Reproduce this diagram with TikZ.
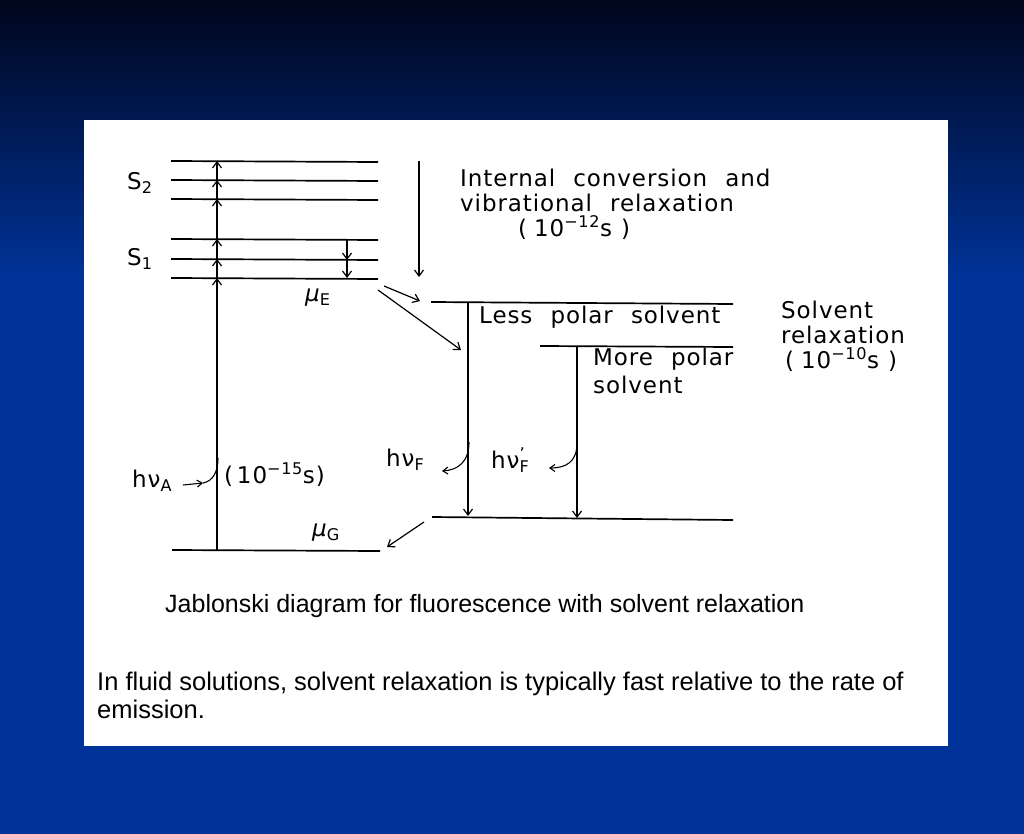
\documentclass[tikz,border=0pt]{standalone}
\usepackage{fontspec}
\setmainfont{Liberation Sans}
\newfontfamily\drawfont{DejaVu Sans}[LetterSpace=4,WordSpace=2.2]
\usetikzlibrary{arrows.meta}
\definecolor{bgtop}{RGB}{0,6,28}
\definecolor{bgblue}{RGB}{0,51,153}
\tikzset{
  level/.style={line width=1.7pt},
  trans/.style={line width=1.2pt,-{Straight Barb[length=6pt,width=9pt]}},
  curl/.style={line width=1.1pt},
  lbl/.style={font=\drawfont\fontsize{23}{26}\selectfont,inner sep=0pt,anchor=west},
  captxt/.style={font=\fontsize{25.5}{28}\selectfont,inner sep=0pt,anchor=west}
}

\begin{document}
\begin{tikzpicture}[x=1pt,y=-1pt]
\useasboundingbox (0,0) rectangle (1024,834);
\shade[top color=bgtop,bottom color=bgblue] (0,0) rectangle (1024,280);
\fill[bgblue] (0,279) rectangle (1024,834);
\fill[white] (84,120) rectangle (948,746);

% energy levels
\draw[level] (171,161) -- (378,162);
\draw[level] (171,180) -- (378,181);
\draw[level] (171,199) -- (378,200);
\draw[level] (171,239) -- (378,240);
\draw[level] (171,259) -- (378,260);
\draw[level] (171,278) -- (378,279);
\draw[level] (172,550) -- (380,551);
\draw[level] (431,302) -- (733,304);
\draw[level] (540,346) -- (733,347);
\draw[level] (432,517) -- (733,520);

% points on the levels
\foreach \name/\y in {g/550,a/278,b/259,c/239,d/199,e/180,f/161}
  \coordinate (up\name) at (217,\y);
\coordinate (dnc) at (347,240);
\coordinate (dnb) at (347,260);
\coordinate (dna) at (347,278);
\coordinate (ictop) at (419,161);
\coordinate (icbot) at (419,277);
\coordinate (muEa) at (384,286);
\coordinate (lesstip) at (420,301);
\coordinate (muEb) at (378,290);
\coordinate (diagtip) at (461,350);
\coordinate (lesstop) at (468,303);
\coordinate (lessbot) at (468,516);
\coordinate (moretop) at (577,347);
\coordinate (morebot) at (577,518);
\coordinate (gsol) at (424,522);
\coordinate (gtip) at (387,547);

% transitions
\draw[trans] (upg) -- (upa);
\draw[trans] (upa) -- (upb);
\draw[trans] (upb) -- (upc);
\draw[trans] (upc) -- (upd);
\draw[trans] (upd) -- (upe);
\draw[trans] (upe) -- (upf);
\draw[trans] (dnc) -- (dnb);
\draw[trans] (dnb) -- (dna);
\draw[trans] (ictop) -- (icbot);
\draw[trans] (muEa) -- (lesstip);
\draw[trans] (muEb) -- (diagtip);
\draw[trans] (lesstop) -- (lessbot);
\draw[trans] (moretop) -- (morebot);
\draw[trans] (gsol) -- (gtip);

% photons
\coordinate (hvAin) at (183,485);
\coordinate (hvAtip) at (203,483);
\draw[curl,-{Straight Barb[length=5pt,width=7pt]}] (hvAin) -- (hvAtip);
\draw[curl] (hvAtip) .. controls (213,481) and (218,472) .. (218,458);
\draw[curl,-{Straight Barb[length=5pt,width=7pt]}] (469,442) .. controls (469,462) and (458,470) .. (442,471);
\draw[curl,-{Straight Barb[length=5pt,width=7pt]}] (577,443) .. controls (577,462) and (566,468) .. (549,468);

% labels
\node[lbl] (S2) at (127,183) {S\textsubscript{2}};
\node[lbl] (S1) at (127,259) {S\textsubscript{1}};
\node[lbl] (muE) at (305,298) {\itshape μ\textsubscript{\upshape E}};
\node[lbl] (muG) at (312,533) {\itshape μ\textsubscript{\upshape G}};
\node[lbl] (IC1) at (460,178) {Internal conversion and};
\node[lbl] (IC2) at (460,203) {vibrational relaxation};
\node[lbl] (IC3) at (518,228) {(\hspace{0.3em}10\textsuperscript{−12}s\hspace{0.4em})};
\node[lbl] (less) at (479,317) {Less polar solvent};
\node[lbl] (more1) at (593,359) {More polar};
\node[lbl] (more2) at (593,385) {solvent};
\node[lbl] (SR1) at (781,310) {Solvent};
\node[lbl] (SR2) at (781,335) {relaxation};
\node[lbl] (SR3) at (785,360) {(\hspace{0.3em}10\textsuperscript{−10}s\hspace{0.4em})};
\node[lbl] (hvA) at (132,481) {hν\textsubscript{A}};
\node[lbl] (tabs) at (224,475) {(\,10\textsuperscript{−15}s)};
\node[lbl] (hvF) at (386,460) {hν\textsubscript{F}};
\node[lbl] (hvF2) at (491,460) {hν\rlap{\textsuperscript{’}}\textsubscript{F}};

% captions
\node[captxt,font=\fontsize{25}{28}\selectfont] (title) at (165,606) {Jablonski diagram for fluorescence with solvent relaxation};
\node[captxt] (note1) at (97,684) {In fluid solutions, solvent relaxation is typically fast relative to the rate of};
\node[captxt] (note2) at (97,709) {emission.};
\end{tikzpicture}
\end{document}
